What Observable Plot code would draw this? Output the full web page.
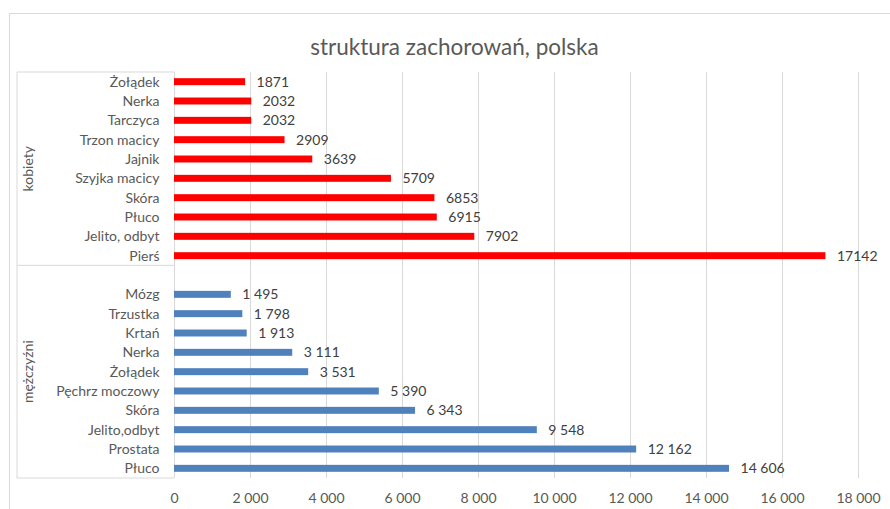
<!DOCTYPE html>
<html>
<head>
<meta charset="utf-8">
<script src="https://cdn.jsdelivr.net/npm/d3@7"></script>
<script src="https://cdn.jsdelivr.net/npm/@observablehq/plot@0.6"></script>
<style>
  html, body { margin: 0; padding: 0; background: #ffffff; }
  #wrap { position: relative; width: 890px; height: 509px; overflow: hidden; }
  #border { position: absolute; left: 9px; top: 13px; width: 900px; height: 520px;
            border-left: 1px solid #d9d9d9; border-top: 1px solid #d9d9d9; pointer-events: none; }
</style>
</head>
<body>
<div id="wrap"><div id="border"></div></div>
<script>
const title = "struktura zachorowań, polska";
const groups = ["kobiety", "mężczyźni"];
const womenCategories = ["Żołądek", "Nerka", "Tarczyca", "Trzon macicy", "Jajnik", "Szyjka macicy", "Skóra", "Płuco", "Jelito, odbyt", "Pierś"];
const womenValues = [1871, 2032, 2032, 2909, 3639, 5709, 6853, 6915, 7902, 17142];
const menCategories = ["Mózg", "Trzustka", "Krtań", "Nerka", "Żołądek", "Pęchrz moczowy", "Skóra", "Jelito,odbyt", "Prostata", "Płuco"];
const menValues = [1495, 1798, 1913, 3111, 3531, 5390, 6343, 9548, 12162, 14606];
const xTicks = [0, 2000, 4000, 6000, 8000, 10000, 12000, 14000, 16000, 18000];
const womenColor = "#ff0000";
const menColor = "#4f81bd";

const plLocale = d3.formatLocale({decimal: ",", thousands: " ", grouping: [3], currency: ["", " zł"]});
const spaced = plLocale.format(",d");

const gapKey = "gap";
const womenRows = womenCategories.map((c, i) => ({key: "k|" + c, name: c, value: womenValues[i], label: String(womenValues[i]), group: groups[0]}));
const menRows = menCategories.map((c, i) => ({key: "m|" + c, name: c, value: menValues[i], label: spaced(menValues[i]), group: groups[1]}));
const rows = [...womenRows, ...menRows];
const yDomain = [...womenRows.map(d => d.key), gapKey, ...menRows.map(d => d.key)];

function categoryFrame(index, scales, values, dimensions) {
  const {marginTop, marginBottom, marginLeft, height} = dimensions;
  const n = yDomain.length;
  const step = (height - marginTop - marginBottom) / n;
  const x0 = marginLeft - 157;
  const g = d3.create("svg:g");
  const bounds = [0, womenRows.length, n].map(k => marginTop + k * step);
  for (const b of bounds) {
    g.append("line").attr("x1", x0).attr("x2", marginLeft).attr("y1", b).attr("y2", b)
      .attr("stroke", "#d9d9d9");
  }
  g.append("line").attr("x1", x0).attr("x2", x0).attr("y1", bounds[0]).attr("y2", bounds[2]).attr("stroke", "#d9d9d9");
  groups.forEach((name, i) => {
    const yc = (bounds[i] + bounds[i + 1]) / 2;
    g.append("text")
      .attr("transform", `translate(${marginLeft - 146},${yc}) rotate(-90)`)
      .attr("text-anchor", "middle")
      .attr("dy", "0.35em")
      .attr("fill", "#595959")
      .attr("font-size", 14)
      .text(name);
  });
  return g.node();
}

const chart = Plot.plot({
  width: 890,
  height: 509,
  marginLeft: 174,
  marginRight: 32,
  marginTop: 72,
  marginBottom: 31,
  style: {fontFamily: "Lato, 'Open Sans', sans-serif", fontSize: "14px", color: "#595959", background: "transparent"},
  x: {domain: [0, 18000], label: null},
  y: {domain: yDomain, paddingInner: 0.64, paddingOuter: 0.32, round: false, label: null},
  marks: [
    Plot.gridX(xTicks, {stroke: "#d9d9d9", strokeOpacity: 1}),
    Plot.axisX({ticks: xTicks, tickSize: 0, tickPadding: 15, tickFormat: spaced, fontSize: 14, label: null}),
    Plot.axisY({tickSize: 0, tickPadding: 15, tickFormat: k => k === gapKey ? "" : k.split("|")[1], fontSize: 14, label: null}),
    categoryFrame,
    Plot.barX(rows, {x: "value", y: "key", fill: d => d.group === groups[0] ? womenColor : menColor}),
    Plot.text(rows, {x: "value", y: "key", text: "label", textAnchor: "start", dx: 11, fill: "#404040", fontSize: 14}),
    Plot.text([title], {frameAnchor: "top", dx: -62, dy: -33, fontSize: 22.5, fill: "#595959"})
  ]
});
document.getElementById("wrap").insertBefore(chart, document.getElementById("border"));
</script>
</body>
</html>
